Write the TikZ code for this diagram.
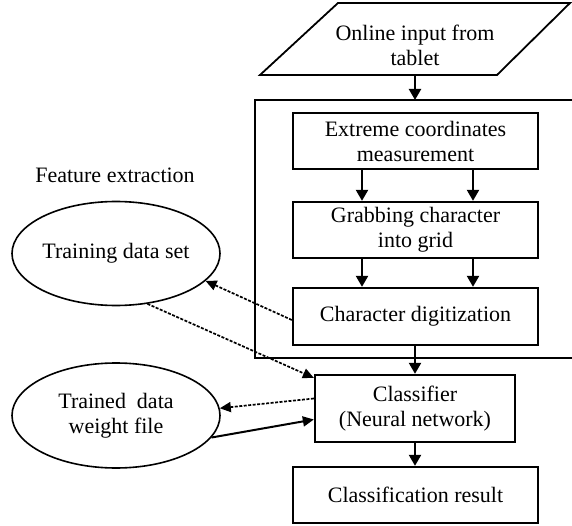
\documentclass[tikz,border=0pt]{standalone}
\usepackage{fontspec}
\setmainfont{Liberation Serif}
\usetikzlibrary{arrows.meta,calc,shapes.geometric}
\begin{document}
\begin{tikzpicture}[x=1pt,y=-1pt,
  every node/.style={font=\fontsize{22}{25}\selectfont},
  procbox/.style={draw,line width=2.3pt,inner sep=0pt,align=center,minimum width=245pt,minimum height=56pt},
  oval/.style={draw,ellipse,line width=1.6pt,inner sep=0pt,align=center,minimum width=208pt,minimum height=104pt},
  arr/.style={line width=2.2pt,-{Triangle[length=11pt,width=12pt]}},
  darr/.style={line width=1.7pt,dash pattern=on 3pt off 1.5pt,-{Triangle[length=11pt,width=10pt]}},
  sarr/.style={line width=2pt,-{Triangle[length=11pt,width=10pt]}}]
\useasboundingbox (0,0) rectangle (572,526);
% input parallelogram
\coordinate (ptl) at (338,3);
\coordinate (ptr) at (570,3);
\coordinate (pbr) at (497,75);
\coordinate (pbl) at (260,75);
\draw[line width=1.8pt,line join=miter] (ptl) -- (ptr) -- (pbr) -- (pbl) -- cycle;
\node[align=center] (inp) at (415,45) {Online input from\\tablet};
\coordinate (inbot) at (415,75);
% frame
\coordinate (ftr) at (580,100);
\coordinate (ftl) at (255,100);
\coordinate (fbl) at (255,358);
\coordinate (fbr) at (580,358);
\coordinate (ftop) at (415,100);
\draw[line width=2.2pt] (ftr) -- (ftl) -- (fbl) -- (fbr);
% boxes
\node[procbox] (ext) at (415.5,141) {Extreme coordinates\\measurement};
\node[procbox] (grab) at (415.5,230) {Grabbing character\\into grid};
\node[procbox,minimum height=57pt] (dig) at (415.5,316.5) {Character digitization};
\node[procbox,minimum width=200pt,minimum height=67pt] (cls) at (415,408.5) {Classifier\\(Neural network)};
\node[procbox] (res) at (415.5,495) {Classification result};
% ellipses
\node[oval] (train) at (116,253.5) {Training data set};
\node[oval,minimum height=105pt] (trained) at (116,415.5) {Trained\ \ data\\weight file};
\node (feat) at (115,175) {Feature extraction};
% arrows
\draw[arr] (inbot) -- (ftop);
\draw[arr] (ext.south -| 362,0) -- (grab.north -| 362,0);
\draw[arr] (ext.south -| 473,0) -- (grab.north -| 473,0);
\draw[arr] (grab.south -| 362,0) -- (dig.north -| 362,0);
\draw[arr] (grab.south -| 473,0) -- (dig.north -| 473,0);
\draw[arr] (dig.south -| cls.north) -- (cls.north);
\draw[arr] (cls.south) -- (res.north -| cls.south);
\draw[darr] ($(dig.west)+(0,3.5)$) -- (train.-17);
\draw[darr] (train.-58) -- ($(cls.north west)+(0,4)$);
\draw[darr] ($(cls.west)+(0,-10)$) -- (trained.4);
\draw[sarr] (trained.-13) -- ($(cls.west)+(0,11)$);
\end{tikzpicture}
\end{document}
